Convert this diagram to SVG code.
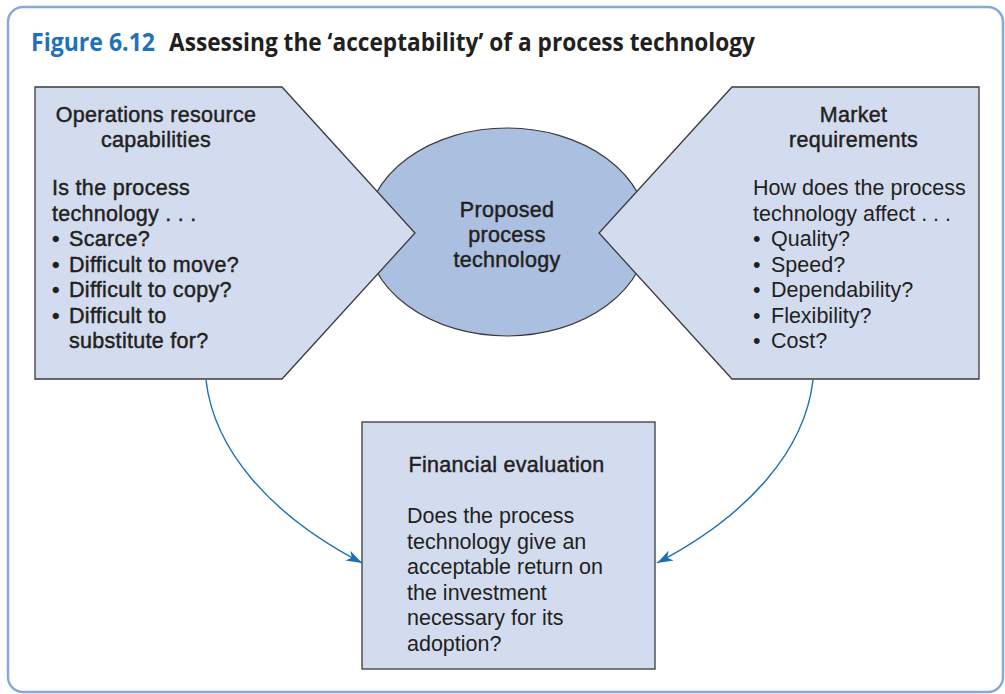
<svg xmlns="http://www.w3.org/2000/svg" width="1005" height="694" viewBox="0 0 1005 694">
<style>
.box{fill:#d3dcef;stroke:#3a3a3a;stroke-width:1.3}
.ell{fill:#abbfe1;stroke:#3a3a3a;stroke-width:1.2}
.t{font-family:"Liberation Sans",Arial,sans-serif;font-size:21.5px;fill:#231f20}
.m{stroke:#231f20;stroke-width:0.45;letter-spacing:0.3px}
.c{text-anchor:middle}
.title{font-family:"Open Sans","Liberation Sans",sans-serif;font-weight:bold;font-size:25.5px}
.conn{fill:none;stroke:#1a6fb7;stroke-width:1.4}
</style>
<defs>
<marker id="ah" markerUnits="userSpaceOnUse" markerWidth="17" markerHeight="12" refX="16" refY="5.5" orient="auto">
<path d="M0,0 L16,5.5 L0,11 L4.5,5.5 Z" fill="#1a6fb7"/>
</marker>
</defs>
<rect x="8" y="7" width="995" height="685" rx="15" fill="#ffffff" stroke="#86a9dc" stroke-width="2.5"/>
<g id="title">
<text class="title" x="31" y="51" fill="#1f72b8" textLength="124" lengthAdjust="spacingAndGlyphs">Figure 6.12</text>
<text class="title" x="169" y="51" fill="#231f20" textLength="586" lengthAdjust="spacingAndGlyphs">Assessing the ‘acceptability’ of a process technology</text>
</g>
<g id="connectors">
<path class="conn" d="M206,380 C214,450 270,515 362,563" marker-end="url(#ah)"/>
<path class="conn" d="M813,380 C805,450 749,515 657,563" marker-end="url(#ah)"/>
</g>
<g id="proposed">
<ellipse class="ell" cx="507" cy="232" rx="141" ry="104"/>
<text class="t m c" x="507" y="217">Proposed</text>
<text class="t m c" x="507" y="242">process</text>
<text class="t m c" x="507" y="267">technology</text>
</g>
<g id="operations">
<polygon class="box" points="35,87 282,87 415,233 282,379 35,379"/>
<text class="t m c" x="156" y="122">Operations resource</text>
<text class="t m c" x="156" y="147">capabilities</text>
<text class="t m" x="52" y="195">Is the process</text>
<text class="t m" x="52" y="220.5">technology . . .</text>
<text class="t m" x="52" y="246">•</text><text class="t m" x="69" y="246">Scarce?</text>
<text class="t m" x="52" y="271.5">•</text><text class="t m" x="69" y="271.5">Difficult to move?</text>
<text class="t m" x="52" y="297">•</text><text class="t m" x="69" y="297">Difficult to copy?</text>
<text class="t m" x="52" y="322.5">•</text><text class="t m" x="69" y="322.5">Difficult to</text>
<text class="t m" x="69" y="348">substitute for?</text>
</g>
<g id="market">
<polygon class="box" points="979,87 732,87 599,233 732,379 979,379"/>
<text class="t m c" x="853.5" y="122">Market</text>
<text class="t m c" x="853.5" y="147">requirements</text>
<text class="t" x="753" y="195">How does the process</text>
<text class="t" x="753" y="220.5">technology affect . . .</text>
<text class="t" x="753" y="246">•</text><text class="t" x="771" y="246">Quality?</text>
<text class="t" x="753" y="271.5">•</text><text class="t" x="771" y="271.5">Speed?</text>
<text class="t" x="753" y="297">•</text><text class="t" x="771" y="297">Dependability?</text>
<text class="t" x="753" y="322.5">•</text><text class="t" x="771" y="322.5">Flexibility?</text>
<text class="t" x="753" y="348">•</text><text class="t" x="771" y="348">Cost?</text>
</g>
<g id="financial">
<rect class="box" x="362" y="422" width="293" height="247" stroke-width="1.5"/>
<text class="t m c" x="506.5" y="472">Financial evaluation</text>
<text class="t" x="407" y="523">Does the process</text>
<text class="t" x="407" y="548.5">technology give an</text>
<text class="t" x="407" y="574">acceptable return on</text>
<text class="t" x="407" y="599.5">the investment</text>
<text class="t" x="407" y="625">necessary for its</text>
<text class="t" x="407" y="650.5">adoption?</text>
</g>
</svg>
